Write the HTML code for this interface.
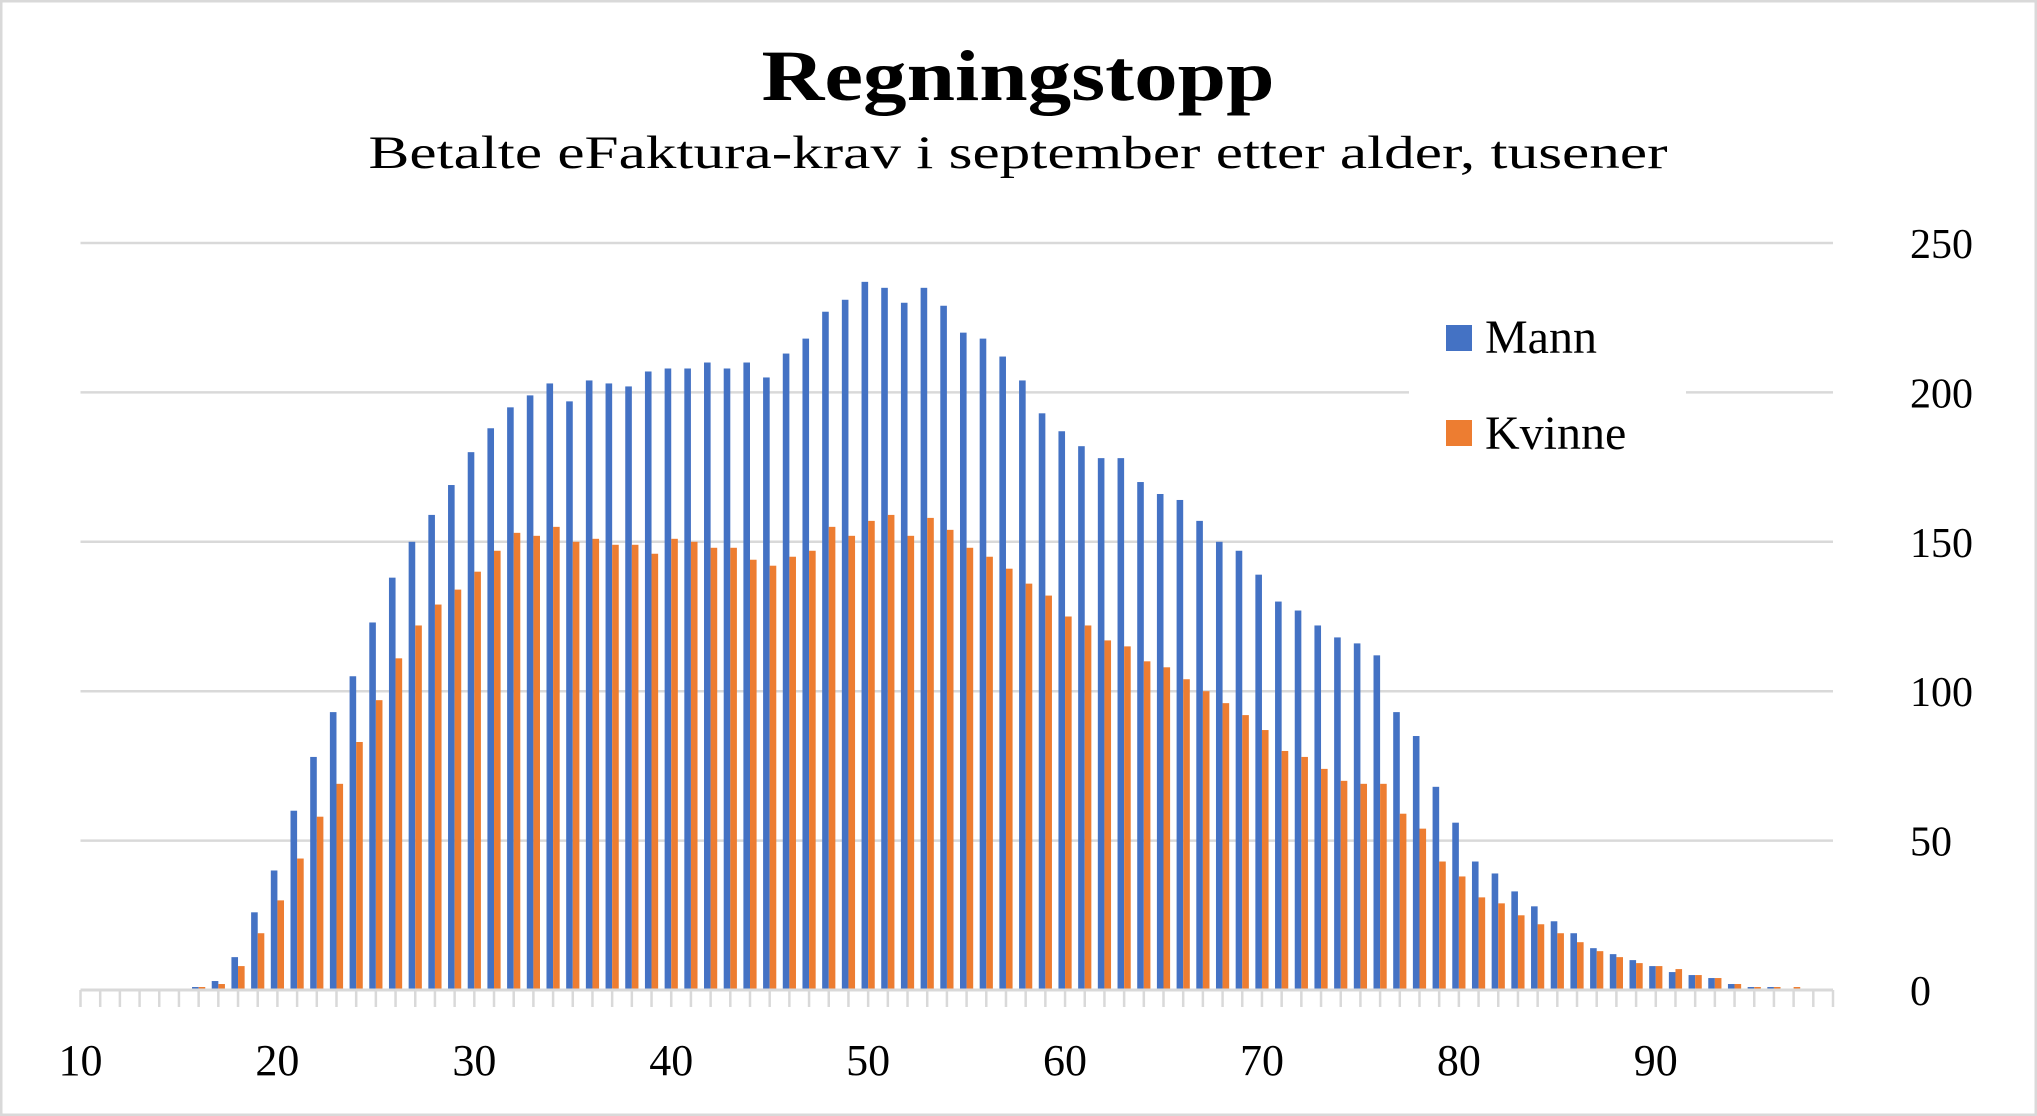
<!DOCTYPE html>
<html><head><meta charset="utf-8"><style>
html,body{margin:0;padding:0;background:#fff;}
svg{display:block;}
</style></head><body>
<svg id="chart" width="2037" height="1116" viewBox="0 0 2037 1116" xmlns="http://www.w3.org/2000/svg" font-family="'Liberation Serif', serif">
<rect x="1" y="1" width="2035" height="1114" fill="#fff" stroke="#d9d9d9" stroke-width="3"/>
<text x="1018" y="100" text-anchor="middle" font-size="72" font-weight="bold" textLength="513" lengthAdjust="spacingAndGlyphs">Regningstopp</text>
<text x="1018" y="168" text-anchor="middle" font-size="47" textLength="1299" lengthAdjust="spacingAndGlyphs">Betalte eFaktura-krav i september etter alder, tusener</text>
<g id="grid"></g>
<g id="bars"></g>
<g id="xaxis"></g>
<g id="yaxis"></g>
<g>
<rect x="1409" y="300" width="277" height="170" fill="#fff"/>
<g>
<rect x="1446" y="325" width="26" height="26" fill="#4472c4"/>
<text x="1485" y="353" font-size="48">Mann</text>
</g>
<g>
<rect x="1446" y="420" width="26" height="26" fill="#ed7d31"/>
<text x="1485" y="449" font-size="48">Kvinne</text>
</g>
</g>
</svg>
<script>
const ages = [];
for (let a = 10; a <= 99; a++) ages.push(a);
const mann = [0,0,0,0,0,0,1,3,11,26,40,60,78,93,105,123,138,150,159,169,180,188,195,199,203,197,204,203,202,207,208,208,210,208,210,205,213,218,227,231,237,235,230,235,229,220,218,212,204,193,187,182,178,178,170,166,164,157,150,147,139,130,127,122,118,116,112,93,85,68,56,43,39,33,28,23,19,14,12,10,8,6,5,4,2,1,1,0,0,0];
const kvinne = [0,0,0,0,0,0,1,2,8,19,30,44,58,69,83,97,111,122,129,134,140,147,153,152,155,150,151,149,149,146,151,150,148,148,144,142,145,147,155,152,157,159,152,158,154,148,145,141,136,132,125,122,117,115,110,108,104,100,96,92,87,80,78,74,70,69,69,59,54,43,38,31,29,25,22,19,16,13,11,9,8,7,5,4,2,1,1,1,0,0];
const yTicks = [0,50,100,150,200,250];
const xLabels = [10,20,30,40,50,60,70,80,90];

const NS = 'http://www.w3.org/2000/svg';
const X0 = 80.5, X1 = 1833, Y0 = 990, Y1 = 243, YMAX = 250;
const step = (X1 - X0) / (ages.length - 1);
function xPos(age){ return X0 + (age - ages[0]) * step; }
function yPos(v){ return Y0 - (v / YMAX) * (Y0 - Y1); }
function mk(tag, attrs, parent){
  const e = document.createElementNS(NS, tag);
  for (const k in attrs) e.setAttribute(k, attrs[k]);
  parent.appendChild(e);
  return e;
}
const grid = document.getElementById('grid');
const bars = document.getElementById('bars');
const xaxis = document.getElementById('xaxis');
const yaxis = document.getElementById('yaxis');

yTicks.forEach(t => {
  if (t === 0) return;
  const l = mk('line', {x1: X0, x2: X1, y1: yPos(t), y2: yPos(t), stroke: '#d9d9d9', 'stroke-width': 2.5}, grid);
  
  
});
yTicks.forEach(t => {
  const tx = mk('text', {x: 1910, y: yPos(t) + 15, 'font-size': 42}, yaxis);
  tx.textContent = t;
  
  
});

const bw = 6.6;
ages.forEach((a, i) => {
  const cx = xPos(a);
  if (mann[i] > 0) {
    const r = mk('rect', {x: cx - bw, y: yPos(mann[i]), width: bw, height: Y0 - yPos(mann[i]), fill: '#4472c4'}, bars);
    
    
  }
  if (kvinne[i] > 0) {
    const r = mk('rect', {x: cx, y: yPos(kvinne[i]), width: bw, height: Y0 - yPos(kvinne[i]), fill: '#ed7d31'}, bars);
    
    
  }
});

const axl = mk('line', {x1: X0, x2: X1, y1: Y0, y2: Y0, stroke: '#d9d9d9', 'stroke-width': 3}, xaxis);


ages.forEach(a => {
  const tk = mk('line', {x1: xPos(a), x2: xPos(a), y1: Y0, y2: Y0 + 17, stroke: '#d9d9d9', 'stroke-width': 2.5}, xaxis);
  
  
});
xLabels.forEach(a => {
  const tx = mk('text', {x: xPos(a), y: 1075, 'font-size': 44, 'text-anchor': 'middle'}, xaxis);
  tx.textContent = a;
  
  
});
</script>
</body></html>
